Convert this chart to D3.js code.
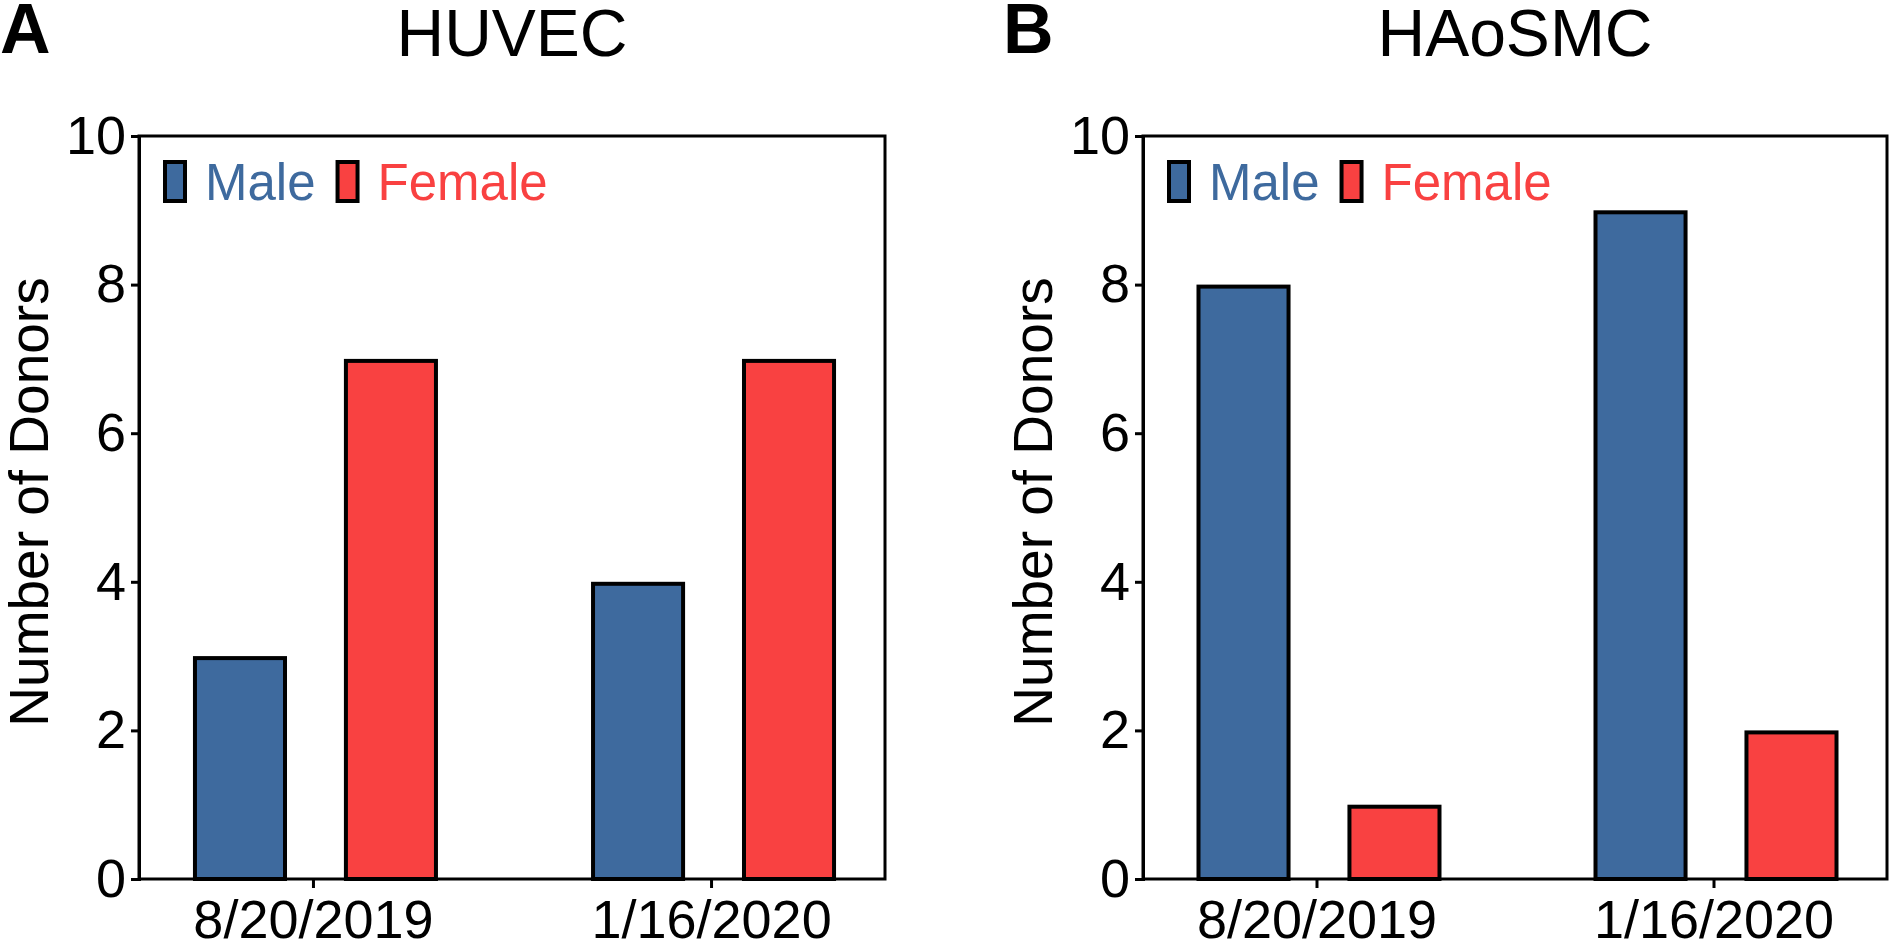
<!DOCTYPE html>
<html>
<head>
<meta charset="utf-8">
<script src="https://cdn.jsdelivr.net/npm/d3@7"></script>
<style>
  html, body { margin: 0; padding: 0; background: #fff; }
  svg { display: block; }
  text { font-family: "Liberation Sans", Arial, sans-serif; }
</style>
</head>
<body>
<script>
// ---- Data ----
const dates = ["8/20/2019", "1/16/2020"];
const sexes = ["Male", "Female"];
const huvecMale = [3, 4];
const huvecFemale = [7, 7];
const haosmcMale = [8, 9];
const haosmcFemale = [1, 2];
const yTickValues = [0, 2, 4, 6, 8, 10];
const panelTitles = ["HUVEC", "HAoSMC"];
const panelLetters = ["A", "B"];
const yLabel = "Number of Donors";

const colors = { Male: "#3E6A9E", Female: "#F94141" };

const W = 1890, H = 942;
const svg = d3.select("body").append("svg").attr("width", W).attr("height", H);

const panels = [
  { letter: panelLetters[0], title: panelTitles[0], male: huvecMale, female: huvecFemale, x0: 139, x1: 885, letterX: 0 },
  { letter: panelLetters[1], title: panelTitles[1], male: haosmcMale, female: haosmcFemale, x0: 1143, x1: 1887, letterX: 1003 }
];

const yTop = 136, yBottom = 879;
const y = d3.scaleLinear().domain([0, 10]).range([yBottom, yTop]);

panels.forEach(p => {
  const g = svg.append("g");
  const x = d3.scalePoint().domain(dates).range([p.x0, p.x1]).padding(0.437);
  const sub = d3.scaleBand().domain(sexes).range([-120, 125]).paddingInner(0.377).paddingOuter(0);
  const values = { Male: p.male, Female: p.female };

  // panel letter
  g.append("text").attr("x", p.letterX).attr("y", 53)
    .attr("font-size", 70).attr("font-weight", "bold").attr("fill", "#000")
    .text(p.letter);

  // title
  g.append("text").attr("x", (p.x0 + p.x1) / 2).attr("y", 56)
    .attr("text-anchor", "middle").attr("font-size", 66).attr("fill", "#000")
    .text(p.title);

  // bars
  const sw = 4;
  dates.forEach((d, i) => {
    sexes.forEach(s => {
      const v = values[s][i];
      const bx = x(d) + sub(s);
      g.append("rect")
        .attr("x", bx + sw / 2)
        .attr("y", y(v) + sw / 2)
        .attr("width", sub.bandwidth() - sw)
        .attr("height", y(0) - y(v) - sw / 2)
        .attr("fill", colors[s])
        .attr("stroke", "#000")
        .attr("stroke-width", sw);
    });
  });

  // frame
  g.append("rect").attr("x", p.x0).attr("y", yTop)
    .attr("width", p.x1 - p.x0).attr("height", yBottom - yTop)
    .attr("fill", "none").attr("stroke", "#000").attr("stroke-width", 3);

  // y axis
  const ya = g.append("g").attr("transform", `translate(${p.x0},0)`)
    .call(d3.axisLeft(y).tickValues(yTickValues).tickSize(8).tickPadding(5).tickFormat(d3.format("d")));
  ya.select(".domain").attr("stroke-width", 3).attr("stroke", "#000");
  ya.selectAll(".tick line").attr("stroke-width", 3).attr("stroke", "#000");
  ya.selectAll(".tick text").attr("font-size", 54).attr("fill", "#000")
    .attr("font-family", "'Liberation Sans', Arial, sans-serif");

  // x axis
  const xa = g.append("g").attr("transform", `translate(0,${yBottom})`)
    .call(d3.axisBottom(x).tickSize(9).tickPadding(12));
  xa.select(".domain").remove();
  xa.selectAll(".tick line").attr("stroke-width", 3).attr("stroke", "#000");
  xa.selectAll(".tick text").attr("font-size", 54).attr("fill", "#000")
    .attr("font-family", "'Liberation Sans', Arial, sans-serif");

  // y label
  g.append("text")
    .attr("transform", `translate(${p.x0 - 91},${502}) rotate(-90)`)
    .attr("text-anchor", "middle").attr("font-size", 55).attr("fill", "#000")
    .text(yLabel);

  // legend
  const lx = p.x0 + 26;
  let cx = lx;
  sexes.forEach(s => {
    g.append("rect").attr("x", cx).attr("y", 162).attr("width", 20).attr("height", 39)
      .attr("fill", colors[s]).attr("stroke", "#000").attr("stroke-width", 4);
    const t = g.append("text").attr("x", cx + 40).attr("y", 200)
      .attr("font-size", 51).attr("fill", colors[s]).text(s);
    cx = cx + 40 + t.node().getComputedTextLength() + 22;
  });
});
</script>
</body>
</html>
